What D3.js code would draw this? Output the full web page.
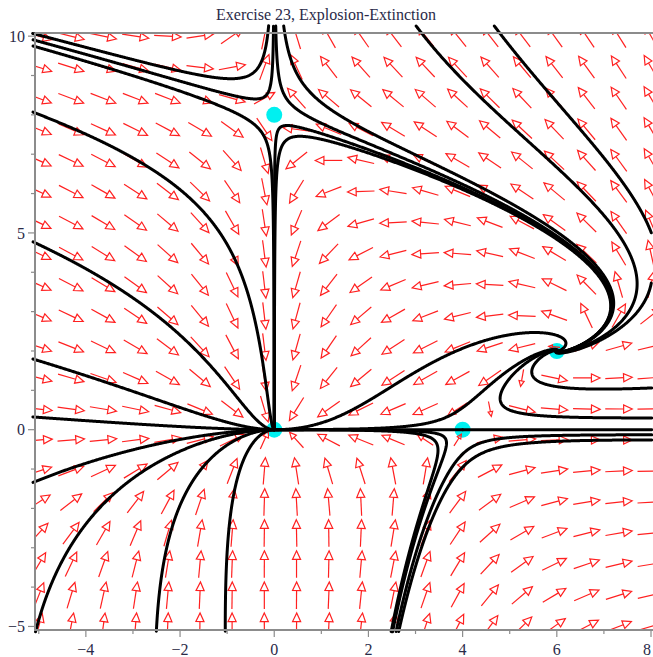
<!DOCTYPE html>
<html><head><meta charset="utf-8">
<script src="https://cdn.jsdelivr.net/npm/d3@7"></script>
<style>html,body{margin:0;padding:0;background:#fff}svg{display:block}</style>
</head><body>
<script>
// ---- data ----
const title = "Exercise 23, Explosion-Extinction";
const xTicksMajor = [-4, -2, 0, 2, 4, 6, 8];
const xTicksMinor = [-5, -3, -1, 1, 3, 5, 7];
const yTicksMajor = [-5, 0, 5, 10];
const yTicksMinor = [-4, -3, -2, -1, 1, 2, 3, 4, 6, 7, 8, 9];
const equilibria = [[0, 0], [0, 8], [4, 0], [6, 2]];
// points, one on each drawn solution curve
const leftCurves = [[-5.08, 8.05], [-5.08, 4.75], [-5.08, 1.78], [-5.08, 0.32], [-5.08, -1.32], [-5.05, -5.05], [-2.5, -5.05], [-1.04, -5.05]];
const saddleCurves = [[-1.2, 8.94], [-1.2, 8.59], [-1.2, 8.25], [0.035, 10.1], [0.22, 10.1], [0.15, 7.70], [0.26, 7.36]];
const sourceCurves = [[3.43, 1.75], [3.43, 0.22], [8.0, 1.06], [8.0, 0.30], [3.05, 10.2], [4.71, 10.2], [8.0, 3.69]];
const axisCurves = [[8.0, 0.0], [2.0, 0.0], [8.0, -0.13], [8.0, -0.26], [2.0, -0.008], [2.0, -0.02]];
// direction-field grid (20 x 20)
const gridNx = 20, gridNy = 20;
const xRange = [-5, 8], yRange = [-5, 10];
// system: x' = x(x - y - 4), y' = y(x + y - 8)
function field(x, y) { return [x * (x - y - 4), y * (x + y - 8)]; }

// ---- layout ----
const W = 653, H = 657;
const svg = d3.select("body").append("svg").attr("width", W).attr("height", H);
const xs = d3.scaleLinear().domain([-5.08, 8.0]).range([35, 651]);
const ys = d3.scaleLinear().domain([-5.09, 10.08]).range([630, 33]);
const sx = (xs(1) - xs(0)), sy = (ys(0) - ys(1));

svg.append("defs").append("clipPath").attr("id", "clip")
  .append("rect").attr("x", 35).attr("y", 33).attr("width", 618).attr("height", 597);

// equilibrium dots
svg.append("g").selectAll("circle").data(equilibria).join("circle")
  .attr("cx", d => xs(d[0])).attr("cy", d => ys(d[1])).attr("r", 8)
  .attr("fill", "#00f0f0");

// direction field
const gx = d3.range(gridNx).map(i => xRange[0] + i * (xRange[1] - xRange[0]) / (gridNx - 1));
const gy = d3.range(gridNy).map(j => yRange[0] + j * (yRange[1] - yRange[0]) / (gridNy - 1));
const arrows = [];
gx.forEach(x => gy.forEach(y => {
  const [fx, fy] = field(x, y);
  const m = Math.hypot(fx, fy);
  if (m < 1e-9) return;
  const vx = fx * sx, vy = -fy * sy, n = Math.hypot(vx, vy);
  const L = 27 * Math.min(1, Math.pow(m / 4, 0.6));
  arrows.push({cx: xs(x), cy: ys(y), ux: vx / n, uy: vy / n, L});
}));
const ag = svg.append("g").attr("clip-path", "url(#clip)")
  .attr("stroke", "#ff2020").attr("stroke-width", 1.2).attr("fill", "none").attr("stroke-linejoin", "miter");
arrows.forEach(a => {
  const tx = a.cx - a.ux * a.L / 2, ty = a.cy - a.uy * a.L / 2;
  const hx = a.cx + a.ux * a.L / 2, hy = a.cy + a.uy * a.L / 2;
  const hl = 0.32 * a.L, hw = 0.15 * a.L;
  const bx = hx - a.ux * hl, by = hy - a.uy * hl;
  const px = -a.uy, py = a.ux;
  ag.append("line").attr("x1", tx).attr("y1", ty).attr("x2", bx).attr("y2", by);
  ag.append("path").attr("d", `M${hx},${hy}L${bx + px * hw},${by + py * hw}L${bx - px * hw},${by - py * hw}Z`);
});

// solution curves (numerical integration, arc-length parametrised in screen units)
const box = {x0: -5.12, x1: 8.005, y0: -5.12, y1: 10.25};
function unitVel(x, y, dir) {
  const [fx, fy] = field(x, y);
  const vx = fx * sx, vy = fy * sy, n = Math.hypot(vx, vy);
  if (n < 1e-12) return [0, 0];
  return [dir * vx / n / sx, dir * vy / n / sy];
}
function trace(x0, y0, dir) {
  const pts = [];
  let x = x0, y = y0;
  const h = 0.7;
  for (let k = 0; k < 8000; k++) {
    const k1 = unitVel(x, y, dir);
    const k2 = unitVel(x + h / 2 * k1[0], y + h / 2 * k1[1], dir);
    const k3 = unitVel(x + h / 2 * k2[0], y + h / 2 * k2[1], dir);
    const k4 = unitVel(x + h * k3[0], y + h * k3[1], dir);
    x += h / 6 * (k1[0] + 2 * k2[0] + 2 * k3[0] + k4[0]);
    y += h / 6 * (k1[1] + 2 * k2[1] + 2 * k3[1] + k4[1]);
    pts.push([x, y]);
    if (x < box.x0 || x > box.x1 || y < box.y0 || y > box.y1) break;
    const e = equilibria.find(q => Math.hypot((q[0] - x) * sx, (q[1] - y) * sy) < 1.2);
    if (e) { pts.push([e[0], e[1]]); break; }
  }
  return pts;
}
const allStarts = [...leftCurves, ...saddleCurves, ...sourceCurves, ...axisCurves];
const curves = allStarts.map(([x0, y0]) => {
  const back = trace(x0, y0, -1).reverse();
  const fwd = trace(x0, y0, 1);
  return [...back, [x0, y0], ...fwd];
});
const line = d3.line().x(d => xs(d[0])).y(d => ys(d[1]));
svg.append("g").selectAll("path").data(curves).join("path")
  .attr("d", line).attr("fill", "none").attr("stroke", "#000")
  .attr("stroke-width", 3).attr("stroke-linejoin", "round").attr("stroke-linecap", "round");

// axes
const axCol = "#8c8c8c";
svg.append("line").attr("x1", 35).attr("x2", 653).attr("y1", 33).attr("y2", 33).attr("stroke", axCol).attr("stroke-width", 2);
svg.append("line").attr("x1", 35).attr("x2", 35).attr("y1", 33).attr("y2", 631).attr("stroke", axCol).attr("stroke-width", 2);
svg.append("line").attr("x1", 34).attr("x2", 653).attr("y1", 630).attr("y2", 630).attr("stroke", axCol).attr("stroke-width", 2);
const tg = svg.append("g").attr("stroke", axCol).attr("stroke-width", 1.2);
xTicksMajor.forEach(v => tg.append("line").attr("x1", xs(v)).attr("x2", xs(v)).attr("y1", 630).attr("y2", 637));
xTicksMinor.forEach(v => tg.append("line").attr("x1", xs(v)).attr("x2", xs(v)).attr("y1", 630).attr("y2", 634));
yTicksMajor.forEach(v => tg.append("line").attr("x1", 28).attr("x2", 35).attr("y1", ys(v)).attr("y2", ys(v)));
yTicksMinor.forEach(v => tg.append("line").attr("x1", 31).attr("x2", 35).attr("y1", ys(v)).attr("y2", ys(v)));
const fmt = v => v < 0 ? "\u2212" + Math.abs(v) : String(v);
const lab = svg.append("g").attr("font-family", "'Liberation Serif', 'Times New Roman', serif").attr("font-size", 16).attr("fill", "#2a2a48");
xTicksMajor.forEach(v => lab.append("text").attr("x", Math.min(xs(v), 647)).attr("y", 655).attr("text-anchor", "middle").text(fmt(v)));
yTicksMajor.forEach(v => lab.append("text").attr("x", 25).attr("y", ys(v)).attr("dy", "0.35em").attr("text-anchor", "end").text(fmt(v)));
svg.append("text").attr("x", 326).attr("y", 20).attr("text-anchor", "middle")
  .attr("font-family", "'Liberation Serif', 'Times New Roman', serif").attr("font-size", 16).attr("fill", "#2a2a48")
  .text(title);
</script>
</body></html>
